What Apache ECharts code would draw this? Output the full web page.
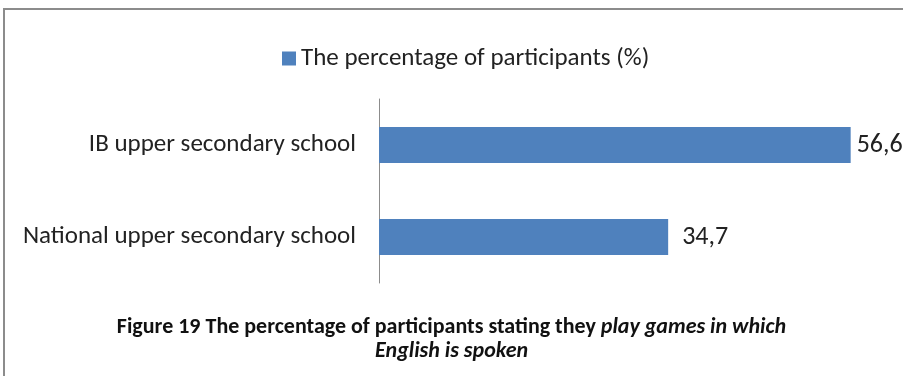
<!DOCTYPE html>
<html>
<head>
<meta charset="utf-8">
<script src="https://cdn.jsdelivr.net/npm/echarts@6/dist/echarts.min.js"></script>
<style>
  html, body { margin: 0; padding: 0; background: #ffffff; }
  #chart { width: 903px; height: 376px; }
</style>
</head>
<body>
<div id="chart"></div>
<script>
// Schools compared, listed bottom-to-top as the category axis draws them
const categories = ['National upper secondary school', 'IB upper secondary school'];
// Share of participants (%) who play games in which English is spoken
const percentages = [34.7, 56.6];
const seriesName = 'The percentage of participants (%)';

const chart = echarts.init(document.getElementById('chart'));
const baseFont = 'Carlito, "Liberation Sans Narrow", "Liberation Sans", Arial, sans-serif';

// The longest bar's label sits closer to its bar so it stays inside the frame
const maxValue = Math.max(...percentages);
const barData = percentages.map(v => ({
  value: v,
  label: { distance: v === maxValue ? 6 : 14 }
}));

chart.setOption({
  animation: false,
  textStyle: { fontFamily: baseFont },
  graphic: [
    {
      type: 'rect',
      shape: { x: 4, y: 9, width: 1000, height: 500 },
      style: { fill: 'none', stroke: '#8c8c8c', lineWidth: 2 },
      silent: true
    }
  ],
  legend: {
    top: 41,
    left: 277,
    itemWidth: 14,
    itemHeight: 14,
    itemGap: 5,
    icon: 'rect',
    textStyle: { fontSize: 25, color: '#222', fontFamily: baseFont, padding: [0, 0, 0, 0] },
    data: [seriesName]
  },
  title: {
    left: 'center',
    top: 310,
    text: '{b|Figure 19 The percentage of participants stating they }{i|play games in which}\n{i|English is spoken}',
    textStyle: {
      rich: {
        b: { fontSize: 22, fontWeight: 'bold', color: '#111', fontFamily: baseFont, lineHeight: 24 },
        i: { fontSize: 22, fontWeight: 'bold', fontStyle: 'italic', color: '#111', fontFamily: baseFont, lineHeight: 24 }
      }
    }
  },
  grid: { left: 379, right: 24, top: 99, height: 184, containLabel: false },
  xAxis: {
    type: 'value',
    min: 0,
    max: 60,
    show: false,
    splitLine: { show: false }
  },
  yAxis: {
    type: 'category',
    data: categories,
    axisLine: { show: true, lineStyle: { color: '#8c8c8c', width: 1 } },
    axisTick: { show: false },
    axisLabel: { fontSize: 25, color: '#222', margin: 23, fontFamily: baseFont }
  },
  series: [
    {
      name: seriesName,
      type: 'bar',
      data: barData,
      barWidth: 36,
      itemStyle: { color: '#4f81bd' },
      label: {
        show: true,
        position: 'right',
        distance: 14,
        fontSize: 26,
        color: '#222',
        fontFamily: baseFont,
        formatter: p => String(p.value).replace('.', ',')
      }
    }
  ]
});
</script>
</body>
</html>
